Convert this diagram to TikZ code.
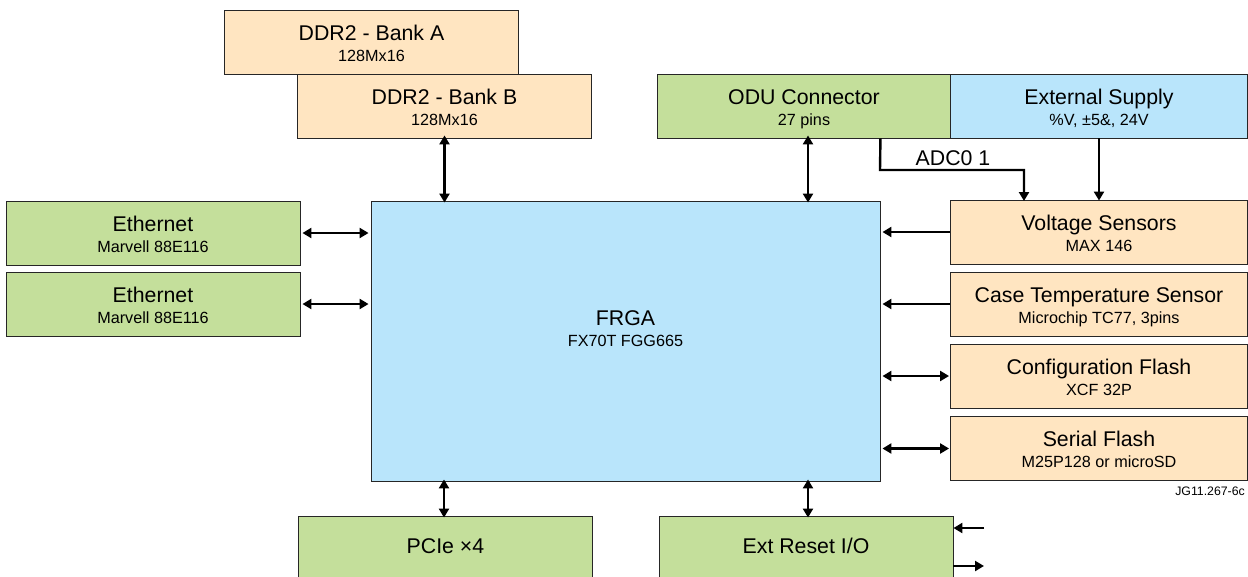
\documentclass[tikz,border=0pt]{standalone}
\usepackage{fontspec}
\setmainfont{Liberation Sans}
\usetikzlibrary{arrows.meta}
\definecolor{peach}{HTML}{FFE5C1}
\definecolor{leaf}{HTML}{C4DF9B}
\definecolor{sky}{HTML}{B9E5FB}
\newcommand{\tbig}[1]{{\fontsize{21.3}{22}\selectfont #1}}
\newcommand{\tsmall}[1]{{\fontsize{16.2}{22}\selectfont #1}}
\newcommand{\twol}[2]{\baselineskip=0pt\lineskip=0pt\lineskiplimit=-100pt\tbig{\rule[-5pt]{0pt}{27pt}#1}\\\tsmall{\rule[-5pt]{0pt}{20pt}#2}}
\tikzset{
  x=1pt,y=-1pt,
  box/.style={draw=black!85,line width=0.9pt,inner sep=0pt,align=center,text=black,minimum width=#1},
  box/.default=294pt,
  two/.style={minimum height=64pt},
  bi/.style={line width=2.4pt,{Triangle[length=9pt,width=10pt]}-{Triangle[length=9pt,width=10pt]}},
  uni/.style={line width=2.4pt,-{Triangle[length=9pt,width=10pt]}},
}
\begin{document}
\begin{tikzpicture}
\clip (0,0) rectangle (1248,576);
\useasboundingbox (0,0) rectangle (1248,576);
\fill[white] (0,0) rectangle (1248,576);
\node[box,two,fill=peach] (banka) at (371.5,42.5) {\twol{DDR2 - Bank A}{128Mx16}};
\node[box,two,fill=peach] (bankb) at (444.5,106) {\twol{DDR2 - Bank B}{128Mx16}};
\node[box,two,fill=leaf] (odu) at (804,106) {\twol{ODU Connector}{27 pins}};
\node[box=297pt,two,fill=sky] (ext) at (1099,106) {\twol{External Supply}{\%V, ±5\&, 24V}};
\node[box,two,fill=leaf] (eth1) at (153,233) {\twol{Ethernet}{Marvell 88E116}};
\node[box,two,fill=leaf] (eth2) at (153,304) {\twol{Ethernet}{Marvell 88E116}};
\node[box=509pt,minimum height=280pt,fill=sky] (fpga) at (625.5,341) {};
\node[align=center,inner sep=0pt] (fpgatxt) at (625.5,327) {\twol{FRGA}{FX70T FGG665}};
\node[box=297pt,two,fill=peach] (volt) at (1099,232) {\twol{Voltage Sensors}{MAX 146}};
\node[box=297pt,two,fill=peach] (case) at (1099,304) {\twol{Case Temperature Sensor}{Microchip TC77, 3pins}};
\node[box=297pt,two,fill=peach] (conf) at (1099,376) {\twol{Configuration Flash}{XCF 32P}};
\node[box=297pt,two,fill=peach] (serial) at (1099,448.5) {\twol{Serial Flash}{M25P128 or microSD}};
\node[box,minimum height=76pt,fill=leaf] (pcie) at (445.5,554) {};
\node[inner sep=0pt] (pcietxt) at (445.5,546) {\tbig{PCIe ×4}};
\node[box,minimum height=76pt,fill=leaf] (reset) at (806,554) {};
\node[inner sep=0pt] (resettxt) at (806,546) {\tbig{Ext Reset I/O}};
\node[anchor=east,inner sep=0pt] (code) at (1245,491) {\fontsize{12.3}{14}\selectfont JG11.267-6c};
\node[inner sep=0pt] (adc) at (953,158) {\tbig{ADC0 1}};
\coordinate (in1) at (984,528);
\coordinate (out1) at (984,566);
% connectors
\draw[bi] ([yshift=3pt]bankb.south) -- ([yshift=-2pt]bankb.south |- fpga.north);
\draw[bi] ([xshift=4pt,yshift=3pt]odu.south) -- ([xshift=4pt,yshift=-2pt]odu.south |- fpga.north);
\draw[bi] ([xshift=2pt]eth1.east) -- ([xshift=-2pt]eth1.east -| fpga.west);
\draw[bi] ([xshift=2pt]eth2.east) -- ([xshift=-2pt]eth2.east -| fpga.west);
\draw[uni] (volt.west) -- ([xshift=2pt]volt.west -| fpga.east);
\draw[uni] (case.west) -- ([xshift=2pt]case.west -| fpga.east);
\draw[bi] ([xshift=-1pt]conf.west) -- ([xshift=2pt]conf.west -| fpga.east);
\draw[bi] ([xshift=-1pt]serial.west) -- ([xshift=2pt]serial.west -| fpga.east);
\draw[bi] ([xshift=-1.5pt,yshift=2pt]pcie.north |- fpga.south) -- ([xshift=-1.5pt,yshift=-2pt]pcie.north);
\draw[bi] ([xshift=2pt,yshift=2pt]reset.north |- fpga.south) -- ([xshift=2pt,yshift=-2pt]reset.north);
\draw[uni] (odu.south -| fpga.east) -- (880,170) -- (1024,170) -- ([yshift=-1pt]1024,200);
\draw[uni] (ext.south) -- ([yshift=-1pt]ext.south |- volt.north);
\draw[uni] (in1) -- (in1 -| reset.east);
\draw[uni] (out1 -| reset.east) -- (out1);
\end{tikzpicture}
\end{document}
